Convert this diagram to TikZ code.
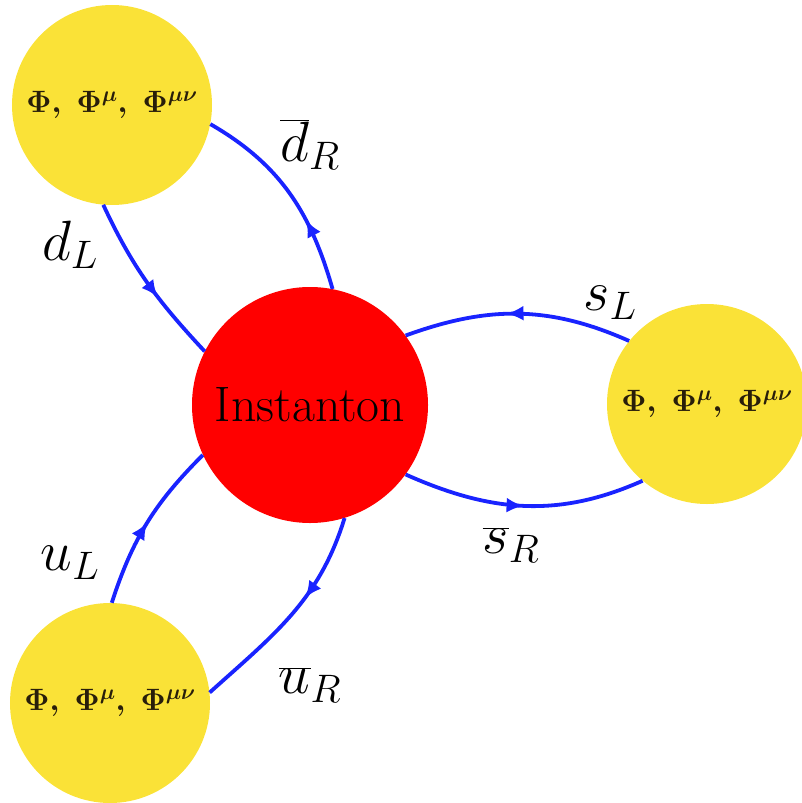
\RequirePackage{fix-cm}
\documentclass[tikz,border=0pt]{standalone}
\usetikzlibrary{arrows.meta,decorations.markings}
\definecolor{yel}{RGB}{250,226,55}
\definecolor{qblue}{RGB}{25,35,255}
\definecolor{instred}{RGB}{255,0,0}
\definecolor{phitext}{RGB}{40,30,10}
\begin{document}
\begin{tikzpicture}[x=1bp,y=1bp,
  yb/.style={circle,fill=yel,minimum size=200bp,inner sep=0pt,text=phitext,font=\fontsize{31}{36}\selectfont\boldmath},
  inst/.style={circle,fill=instred,minimum size=236bp,inner sep=0pt,font=\fontsize{50}{58}\selectfont},
  fl/.style={draw=qblue,line width=3.8bp,postaction={decorate},
    decoration={markings,mark=at position #1 with {\arrow{Latex[length=17bp,width=15bp]}}}},
  fl/.default=0.5,
  lbl/.style={font=\fontsize{57}{64}\selectfont,inner sep=0pt}]
\useasboundingbox (0,0) rectangle (802,-803);
\node[inst] (I) at (310,-405) {Instanton};
\node[yb] (A) at (112,-105) {$\Phi,\ \Phi^{\mu},\ \Phi^{\mu\nu}$};
\node[yb] (B) at (707,-404) {$\Phi,\ \Phi^{\mu},\ \Phi^{\mu\nu}$};
\node[yb] (C) at (110,-703) {$\Phi,\ \Phi^{\mu},\ \Phi^{\mu\nu}$};
% connectors
\draw[fl=0.6] (A.-95) to[out=-65,in=133] (I.153);
\draw[fl=0.35] (I.79) to[out=106,in=-30] (A.-11);
\draw[fl=0.55] (B.141) to[out=156,in=20] (I.36);
\draw[fl=0.5] (I.-36) to[out=-24,in=-156] (B.-130);
\draw[fl=0.5] (C.89) to[out=72,in=-135] (I.205);
\draw[fl=0.4] (I.-73) to[out=-107,in=42] (C.6);
% labels
\node[lbl] (ldL) at (70,-245) {$d_L$};
\node[lbl] (ldR) at (310,-145) {$\overline{d}_R$};
\node[lbl] (lsL) at (610,-303) {$s_L$};
\node[lbl] (lsR) at (511,-545) {$\overline{s}_R$};
\node[lbl] (luL) at (70,-563) {$u_L$};
\node[lbl] (luR) at (310,-685) {$\overline{u}_R$};
\end{tikzpicture}
\end{document}
